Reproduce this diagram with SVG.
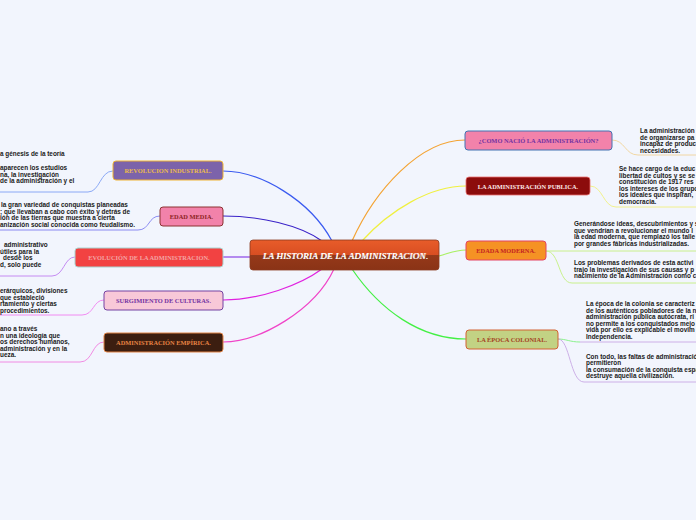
<svg xmlns="http://www.w3.org/2000/svg" width="696" height="520" viewBox="0 0 696 520">
<style>
.nt{font-family:"Liberation Serif",serif;font-weight:bold;font-size:6.4px;text-anchor:middle}
.tx{font-family:"Liberation Sans",sans-serif;font-weight:bold;font-size:6.4px;fill:#1a1a1a}
.ct{font-family:"Liberation Serif",serif;font-style:italic;font-size:9px;letter-spacing:0.27px;fill:#ffffff;text-anchor:middle}
.c{fill:none;stroke-width:1.2}
.s{fill:none;stroke-width:0.9}
</style>
<defs>
<linearGradient id="cg" x1="0" y1="0" x2="0" y2="1">
<stop offset="0" stop-color="#e85c2a"/><stop offset="0.5" stop-color="#d84e22"/><stop offset="0.5" stop-color="#96391a"/><stop offset="1" stop-color="#8a3316"/>
</linearGradient>
</defs>
<rect width="696" height="520" fill="#f2f5fd"/>
<g id="connectors">
<path class="c" stroke="#3a5af0" d="M332,241 C310,200 260,171 223,171"/>
<path class="c" stroke="#3a22c8" d="M322,241 C300,225 260,216 223,216"/>
<path class="c" stroke="#8a44e6" d="M251,257 L223,257"/>
<path class="c" stroke="#e022e0" d="M322,269 C300,285 260,300 223,300"/>
<path class="c" stroke="#f044c8" d="M334,269 C315,310 260,342 223,342"/>
<path class="c" stroke="#f4a434" d="M352,241 C375,190 420,140 465,140"/>
<path class="c" stroke="#f0f040" d="M362,241 C390,210 430,186 466,186"/>
<path class="c" stroke="#a8f060" d="M439,256 C450,253 455,250 466,250"/>
<path class="c" stroke="#44f044" d="M352,269 C380,310 420,339 466,339"/>
<path class="s" stroke="#80a0f4" d="M113,171 C100,171 100,192 88,192 L0,192"/>
<path class="s" stroke="#8080f0" d="M160,216 C148,216 150,230 138,230 L0,230"/>
<path class="s" stroke="#c080f0" d="M75,257 C64,257 64,276 52,276 L0,276"/>
<path class="s" stroke="#f080f0" d="M104,300 C93,300 94,315 82,315 L0,315"/>
<path class="s" stroke="#f080e0" d="M104,342 C92,342 93,362 80,362 L0,362"/>
<path class="s" stroke="#f0d498" d="M612,140 C625,140 625,155 638,155 L696,155"/>
<path class="s" stroke="#f0f080" d="M590,186 C603,186 603,207 616,207 L696,207"/>
<path class="s" stroke="#c4f080" d="M546,251 L696,251"/>
<path class="s" stroke="#c4f080" d="M546,251 C560,251 558,283 572,283 L696,283"/>
<path class="s" stroke="#80f080" d="M558,339 C566,339 570,342 580,342"/>
<path class="s" stroke="#c8a8e4" d="M580,342 L696,342"/>
<path class="s" stroke="#c8a8e4" d="M558,339 C570,339 570,382 584,382 L696,382"/>
</g>
<g id="center">
<rect x="250" y="240" width="189" height="30" rx="3" fill="url(#cg)" stroke="#8a3a20" stroke-width="0.8"/>
<text class="ct" x="345.5" y="258.5" fill="#5a2010" dx="0.6" dy="0.6">LA HISTORIA DE LA ADMINISTRACION.</text>
<text class="ct" x="345.5" y="258.5">LA HISTORIA DE LA ADMINISTRACION.</text>
</g>
<g id="n-revolucion">
<rect x="113" y="161" width="110" height="19" rx="3" fill="#7c63aa" stroke="#f0b432" stroke-width="1"/>
<text class="nt" x="168" y="173" fill="#ecbc4c">REVOLUCION INDUSTRIAL.</text>
</g>
<g id="n-edadmedia">
<rect x="160" y="207" width="63" height="19" rx="3" fill="#f282aa" stroke="#8c3232" stroke-width="1"/>
<text class="nt" x="191.5" y="219" fill="#8c2222">EDAD MEDIA.</text>
</g>
<g id="n-evolucion">
<rect x="75" y="248" width="148" height="19" rx="3" fill="#f24242" stroke="#a8d4d0" stroke-width="1"/>
<text class="nt" x="149" y="260" fill="#f4a4a4">EVOLUCIÓN DE LA ADMINISTRACION.</text>
</g>
<g id="n-surgimiento">
<rect x="104" y="291" width="119" height="19" rx="3" fill="#f8c8d8" stroke="#7442a2" stroke-width="1"/>
<text class="nt" x="163.5" y="303" fill="#7232a2">SURGIMIENTO DE CULTURAS.</text>
</g>
<g id="n-empirica">
<rect x="104" y="333" width="119" height="19" rx="3" fill="#3c1e10" stroke="#e08244" stroke-width="1"/>
<text class="nt" x="163.5" y="345" fill="#e88444">ADMINISTRACIÓN EMPÍRICA.</text>
</g>
<g id="n-como">
<rect x="465" y="131" width="147" height="19" rx="3" fill="#f282aa" stroke="#4272b2" stroke-width="1"/>
<text class="nt" x="538.5" y="143" fill="#7232a2">¿COMO NACIÓ LA ADMINISTRACIÓN?</text>
</g>
<g id="n-publica">
<rect x="466" y="177" width="124" height="18" rx="3" fill="#8c0c0c" stroke="#e87070" stroke-width="0.8"/>
<text class="nt" x="528" y="188.5" fill="#fbe6e6">LA ADMINISTRACIÓN PUBLICA.</text>
</g>
<g id="n-moderna">
<rect x="466" y="241" width="80" height="19" rx="3" fill="#f59224" stroke="#e44262" stroke-width="1"/>
<text class="nt" x="506" y="253" fill="#c42222">EDADA MODERNA.</text>
</g>
<g id="n-colonial">
<rect x="466" y="330" width="92" height="19" rx="3" fill="#c2d284" stroke="#d26232" stroke-width="1"/>
<text class="nt" x="512" y="342" fill="#a44222">LA ÉPOCA COLONIAL.</text>
</g>
<g id="t-revolucion">
<text class="tx" x="0" y="156">a génesis de la teoría</text>
<text class="tx" x="0" y="170">aparecen los estudios</text>
<text class="tx" x="0" y="176.5">na, la investigación</text>
<text class="tx" x="0" y="183">de la administración y el</text>
</g>
<g id="t-edadmedia">
<text class="tx" x="1" y="207">la gran variedad de conquistas planeadas</text>
<text class="tx" x="0" y="213.5">; que llevaban a cabo con éxito y detrás de</text>
<text class="tx" x="0" y="220">ión de las tierras que muestra a cierta</text>
<text class="tx" x="0" y="226.5">anización social conocida como feudalismo.</text>
</g>
<g id="t-evolucion">
<text class="tx" x="4" y="247">administrativo</text>
<text class="tx" x="0" y="253.5">útiles para la</text>
<text class="tx" x="3" y="260">desde los</text>
<text class="tx" x="0" y="266.5">d, solo puede</text>
</g>
<g id="t-surgimiento">
<text class="tx" x="0" y="293">erárquicos, divisiones</text>
<text class="tx" x="0" y="299.5">que estableció</text>
<text class="tx" x="0" y="306">rtamiento y ciertas</text>
<text class="tx" x="0" y="312.5">procedimientos.</text>
</g>
<g id="t-empirica">
<text class="tx" x="0" y="331">ano a través</text>
<text class="tx" x="0" y="337.5">n una ideología que</text>
<text class="tx" x="0" y="344">os derechos humanos,</text>
<text class="tx" x="0" y="350.5">administración y en la</text>
<text class="tx" x="0" y="357">ueza.</text>
</g>
<g id="t-como">
<text class="tx" x="640" y="133">La administración</text>
<text class="tx" x="640" y="139.5">de organizarse pa</text>
<text class="tx" x="640" y="146">incapaz de produc</text>
<text class="tx" x="640" y="152.5">necesidades.</text>
</g>
<g id="t-publica">
<text class="tx" x="619" y="171">Se hace cargo de la educ</text>
<text class="tx" x="619" y="177.5">libertad de cultos y se se</text>
<text class="tx" x="619" y="184">constitución de 1917 res</text>
<text class="tx" x="619" y="190.5">los intereses de los grupo</text>
<text class="tx" x="619" y="197">los ideales que inspiran,</text>
<text class="tx" x="619" y="203.5">democracia.</text>
</g>
<g id="t-moderna1">
<text class="tx" x="574" y="226">Generándose ideas, descubrimientos y s</text>
<text class="tx" x="574" y="232.5">que vendrían a revolucionar el mundo l</text>
<text class="tx" x="574" y="239">la edad moderna, que remplazó los talle</text>
<text class="tx" x="574" y="245.5">por grandes fábricas industrializadas.</text>
</g>
<g id="t-moderna2">
<text class="tx" x="574" y="265">Los problemas derivados de esta activi</text>
<text class="tx" x="574" y="271.5">trajo la investigación de sus causas y p</text>
<text class="tx" x="574" y="278">nacimiento de la Administración como c</text>
</g>
<g id="t-colonial1">
<text class="tx" x="586" y="306">La época de la colonia se caracteriz</text>
<text class="tx" x="586" y="312.5">de los auténticos pobladores de la n</text>
<text class="tx" x="586" y="319">administración pública autócrata, ri</text>
<text class="tx" x="586" y="325.5">no permite a los conquistados mejo</text>
<text class="tx" x="586" y="332">vida por ello es explicable el movim</text>
<text class="tx" x="586" y="338.5">Independencia.</text>
</g>
<g id="t-colonial2">
<text class="tx" x="586" y="359">Con todo, las faltas de administració</text>
<text class="tx" x="586" y="365">permitieron</text>
<text class="tx" x="586" y="371.5">la consumación de la conquista espa</text>
<text class="tx" x="586" y="378">destruye aquella civilización.</text>
</g>
</svg>
